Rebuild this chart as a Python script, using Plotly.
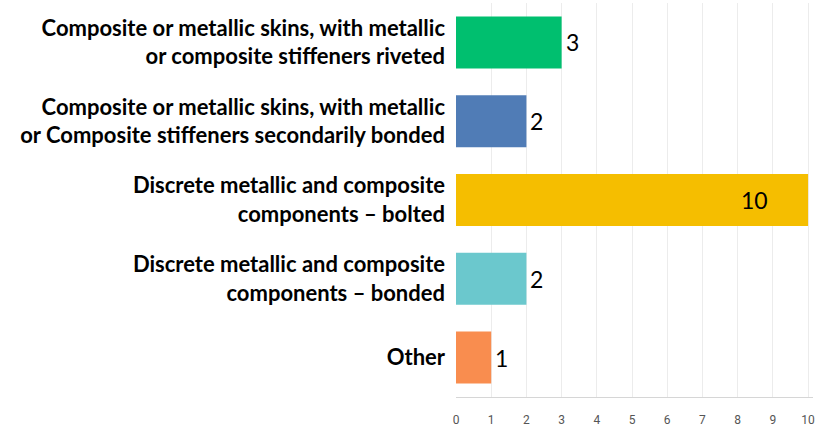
import plotly.graph_objects as go

categories = [
    "Composite or metallic skins, with metallic<br>or composite stiffeners riveted",
    "Composite or metallic skins, with metallic<br>or Composite stiffeners secondarily bonded",
    "Discrete metallic and composite<br>components – bolted",
    "Discrete metallic and composite<br>components – bonded",
    "Other",
]
values = [3, 2, 10, 2, 1]
colors = ["#00bf6f", "#507cb6", "#f5be00", "#6bc8cd", "#f98d4f"]
tick_vals = list(range(0, 11))

fig = go.Figure()
fig.add_trace(go.Bar(
    y=categories, x=values, orientation="h",
    marker=dict(color=colors, line=dict(width=0)),
    hoverinfo="skip",
))

annotations = []
for c, v in zip(categories, values):
    if v >= 9:
        annotations.append(dict(x=v, y=c, text=str(v), showarrow=False,
                                xanchor="right", xshift=-38, yshift=0,
                                font=dict(size=23, color="#000", family="Lato")))
    else:
        annotations.append(dict(x=v, y=c, text=str(v), showarrow=False,
                                xanchor="left", xshift=2, yshift=0,
                                font=dict(size=23, color="#000", family="Lato")))

fig.update_layout(
    width=815, height=431,
    margin=dict(l=456, r=0, t=3, b=34),
    paper_bgcolor="white", plot_bgcolor="white",
    showlegend=False,
    bargap=0.34,
    annotations=annotations,
    xaxis=dict(
        range=[0, 10.14], tickvals=tick_vals, showgrid=True,
        gridcolor="#ececec", gridwidth=1, zeroline=False,
        showline=True, linecolor="#d6d6d6", linewidth=1,
        ticks="", ticklabelstandoff=12, ticklabeloverflow="allow",
        tickfont=dict(family="Roboto", size=12, color="#555"),
    ),
    yaxis=dict(
        autorange="reversed", showgrid=False, zeroline=False,
        ticks="", ticklabelstandoff=10,
        tickfont=dict(family="Lato", size=22, color="#000", weight="bold"),
    ),
)

fig.write_html("out.html")
